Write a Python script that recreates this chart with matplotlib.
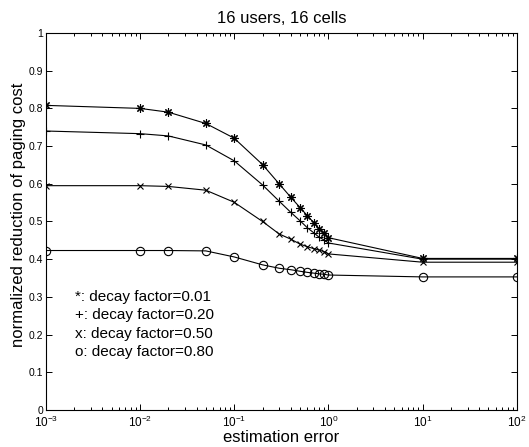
import matplotlib
matplotlib.use("Agg")
import matplotlib.pyplot as plt
from matplotlib.ticker import LogLocator

plt.rcParams['font.family'] = ['Liberation Sans', 'DejaVu Sans']
plt.rcParams['mathtext.fontset'] = 'custom'
plt.rcParams['mathtext.rm'] = 'Liberation Sans'

err = [1e-3, 1e-2, 2e-2, 5e-2, 0.1, 0.2, 0.3, 0.4, 0.5, 0.6, 0.7, 0.8, 0.9, 1.0, 10, 100]
star = [0.808, 0.800, 0.790, 0.760, 0.721, 0.651, 0.600, 0.564, 0.537, 0.515, 0.497, 0.480, 0.469, 0.457, 0.402, 0.402]
plus = [0.740, 0.733, 0.727, 0.703, 0.661, 0.597, 0.554, 0.524, 0.502, 0.483, 0.470, 0.458, 0.451, 0.443, 0.400, 0.400]
xser = [0.595, 0.595, 0.593, 0.583, 0.551, 0.500, 0.467, 0.453, 0.440, 0.433, 0.428, 0.424, 0.420, 0.414, 0.392, 0.392]
oser = [0.423, 0.423, 0.423, 0.422, 0.406, 0.385, 0.376, 0.372, 0.368, 0.365, 0.363, 0.361, 0.360, 0.358, 0.353, 0.353]
legend_lines = ["*: decay factor=0.01", "+: decay factor=0.20", "x: decay factor=0.50", "o: decay factor=0.80"]

fig = plt.figure(figsize=(5.29, 4.47), dpi=100)
ax = fig.add_axes([0.0864, 0.0828, 0.8906, 0.8434])

ax.plot(err, star, '-', color='black', lw=0.8, marker=(8, 2, 0), ms=6, mew=0.8)
ax.plot(err, plus, '-', color='black', lw=0.8, marker='+', ms=6, mew=0.8)
ax.plot(err, xser, '-', color='black', lw=0.8, marker='x', ms=4.5, mew=0.8)
ax.plot(err, oser, '-', color='black', lw=0.8, marker='o', ms=6, mew=0.8, mfc='none')

ax.set_xscale('log')
ax.set_xlim(1e-3, 1e2)
ax.set_ylim(0, 1)
ax.set_yticks([0, 0.1, 0.2, 0.3, 0.4, 0.5, 0.6, 0.7, 0.8, 0.9, 1])
ax.set_yticklabels(['0', '0.1', '0.2', '0.3', '0.4', '0.5', '0.6', '0.7', '0.8', '0.9', '1'])
ax.xaxis.set_major_locator(LogLocator(base=10, numticks=10))
ax.xaxis.set_minor_locator(LogLocator(base=10, subs=range(2, 10), numticks=20))
ax.tick_params(which='both', direction='in', top=True, right=True, width=0.7)
ax.tick_params(axis='y', labelsize=7.5, pad=2)
ax.tick_params(axis='x', labelsize=8.5)
ax.tick_params(which='major', length=4)
ax.tick_params(which='minor', length=2)
for s in ax.spines.values():
    s.set_linewidth(0.8)

ax.set_title("16 users, 16 cells", fontsize=12, pad=7)
ax.set_xlabel("estimation error", fontsize=12, labelpad=0)
ax.set_ylabel("normalized reduction of paging cost", fontsize=12)
ax.yaxis.set_label_coords(-0.042, 0.517)

for i, t in enumerate(legend_lines):
    ax.text(0.063, 0.300 - i * 0.049, t, transform=ax.transAxes, fontsize=11, va='center', ha='left')

fig.savefig("out.png", dpi=100)
